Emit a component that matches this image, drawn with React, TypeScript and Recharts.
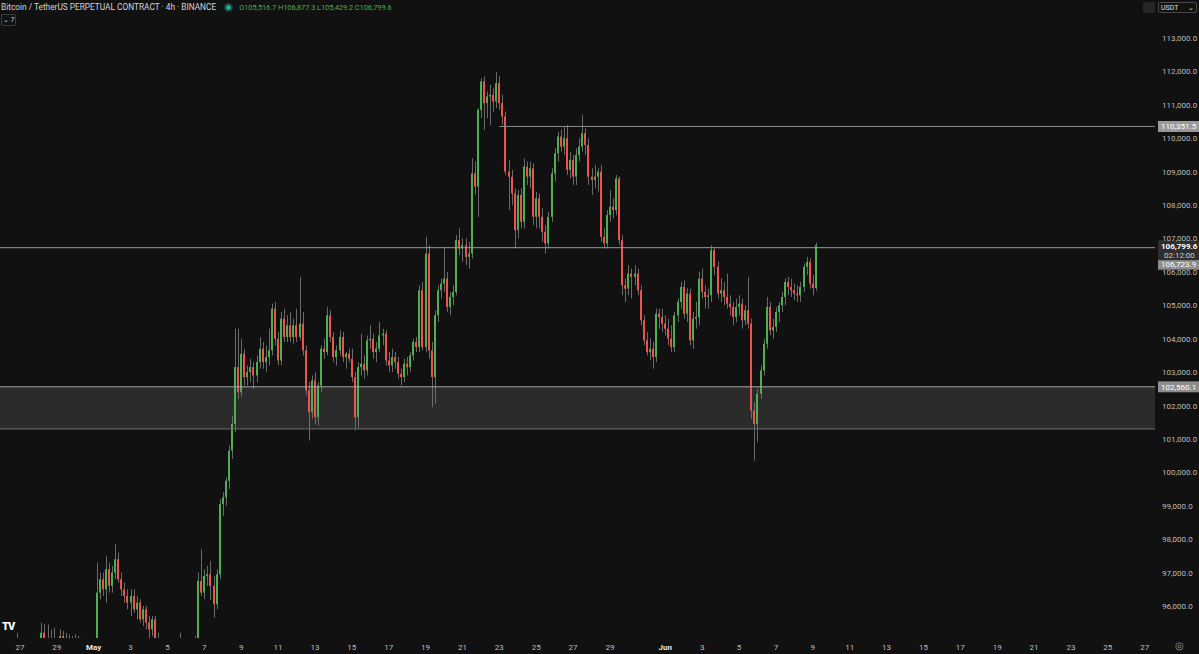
import React from 'react'
import { ComposedChart, Bar, XAxis, YAxis, ReferenceLine, ReferenceArea } from 'recharts'

// 4h candles, Apr 26 00:00 -> Jun 9 04:00 (index 0 = Apr 26 00:00)
const openPx = [
  94650, 94500, 94700, 94600, 94550, 94800, 94700, 94300, 93900, 94100,
  94300, 94500, 94600, 94200, 95200, 94600, 95000, 94700, 94900, 94500,
  95100, 94900, 95050, 94700, 94800, 94400, 94900, 94500, 93800, 94500,
  94300, 94500, 96400, 96800, 96500, 97100, 96600, 97000, 97400, 96800,
  96500, 96300, 96100, 96300, 95900, 96100, 95600, 95900, 95500, 95300,
  95600, 95000, 94500, 94300, 94600, 94400, 94000, 94300, 94600, 94700,
  94500, 94200, 94000, 94500, 94800, 96750, 96400, 96900, 96950, 96600,
  96050, 96950, 99050, 99250, 99750, 100650, 101450, 103150, 102400, 103550,
  102850, 103000, 103150, 102900, 103300, 103700, 103300, 103450, 103650, 104900,
  104000, 103350, 104600, 104050, 104400, 104050, 104400, 104050, 104450, 103650,
  102450, 101800, 102750, 101650, 102600, 103700, 103600, 104700, 104050, 103450,
  103650, 104050, 103450, 103550, 103400, 102850, 101650, 103150, 103250, 103050,
  103950, 104000, 103600, 103700, 104100, 104150, 103350, 103200, 103450, 103300,
  102950, 102850, 103250, 103150, 103500, 103900, 103750, 105450, 103750, 106550,
  103650, 102850, 104700, 105450, 105650, 105800, 104950, 105250, 105400, 106950,
  106700, 106800, 106450, 106550, 108950, 108550, 110850, 111700, 111050, 111250,
  111300, 111100, 111650, 111050, 110650, 109000, 108850, 108350, 107250, 108300,
  107500, 109150, 108850, 109100, 107650, 108200, 107650, 107200, 106850, 107650,
  108950, 109550, 110050, 109750, 110000, 109050, 109350, 108850, 109500, 109750,
  110150, 109800, 108850, 108750, 108850, 109000, 107050, 106850, 107700, 107950,
  107850, 108800, 106950, 105600, 105500, 105950, 105850, 105950, 105450, 104550,
  103950, 103600, 103700, 103450, 104750, 104650, 104450, 104300, 104000, 103750,
  104700, 105100, 105550, 104750, 105350, 103950, 104600, 104650, 105800, 105400,
  105250, 105300, 106650, 106150, 105350, 105450, 105250, 105050, 104950, 104650,
  104950, 105050, 104550, 104850, 104450, 101850, 101450, 102350, 103050, 103850,
  104950, 104250, 104350, 104800, 105000, 105250, 105700, 105550, 105450, 105350,
  105300, 105550, 106150, 106300, 105650, 105516.7,
]
const highPx = [
  94900, 94800, 94950, 94850, 94900, 95200, 94950, 94600, 94300, 94500,
  94700, 94900, 94950, 95500, 95450, 95450, 95300, 95350, 95000, 95300,
  95250, 95200, 95150, 95100, 95150, 95100, 95050, 94900, 94700, 94950,
  94700, 97300, 97000, 97000, 97500, 97300, 97200, 97850, 97600, 97000,
  96700, 96500, 96500, 96500, 96300, 96200, 96000, 96000, 95700, 95700,
  95700, 95200, 94900, 94800, 94900, 94700, 94500, 94800, 95200, 94900,
  94800, 94600, 94700, 95100, 97000, 97700, 97100, 97200, 97350, 96900,
  97100, 99200, 99400, 99850, 100800, 101700, 104300, 104300, 104000, 103700,
  103200, 103400, 103300, 103500, 104050, 103900, 103800, 104300, 105050, 105100,
  104200, 104800, 104900, 104700, 104800, 104600, 104900, 105850, 104800, 103800,
  102700, 102900, 103000, 102700, 103800, 104000, 104950, 104850, 104200, 103800,
  104250, 104200, 103600, 103700, 103700, 103000, 103300, 104150, 103500, 104100,
  104400, 104150, 103900, 104500, 104300, 104250, 103600, 103700, 103600, 103450,
  103100, 103400, 103450, 103600, 104000, 104050, 105600, 105700, 107050, 106800,
  103900, 104850, 105600, 105800, 106750, 106000, 105400, 105600, 107100, 107300,
  107000, 107000, 106900, 109400, 109300, 110900, 111800, 111850, 111400, 111600,
  111500, 111980, 111850, 111300, 110800, 109350, 109050, 108500, 108450, 108500,
  109400, 109300, 109300, 109250, 108400, 108350, 107900, 107400, 107800, 109100,
  109700, 110200, 110250, 110350, 110400, 109600, 109500, 109700, 110000, 110700,
  110300, 110000, 109100, 109200, 109100, 109200, 107300, 107850, 108450, 108200,
  108900, 108850, 107100, 105800, 106200, 106100, 106200, 106100, 105600, 104700,
  104200, 104000, 103900, 104900, 104900, 104900, 104700, 104600, 104400, 104800,
  105200, 105700, 105750, 105500, 105500, 104800, 105100, 106000, 106100, 105600,
  105500, 106800, 106750, 106300, 105800, 105700, 105950, 105300, 105100, 105200,
  105300, 105200, 105000, 105850, 104600, 102100, 102500, 103200, 104000, 105250,
  105100, 104600, 104950, 105100, 105400, 105800, 105850, 105800, 105650, 105600,
  105700, 106250, 106450, 106400, 105900, 106877.3,
]
const lowPx = [
  94300, 94200, 94400, 94350, 94250, 94500, 94100, 93700, 93600, 93800,
  94000, 94200, 94000, 93900, 94400, 94300, 94500, 94200, 94300, 94200,
  94600, 94500, 94600, 94300, 94200, 93800, 94300, 92900, 93500, 94000,
  94000, 94400, 96200, 96300, 96100, 96400, 96400, 96800, 96700, 96300,
  96100, 95900, 95700, 95800, 95600, 95500, 95400, 95300, 95000, 95100,
  94800, 94200, 94000, 93800, 94200, 93600, 93500, 94000, 94300, 94300,
  93900, 93500, 93800, 94300, 94600, 96300, 96200, 96600, 96180, 95650,
  95900, 96800, 98700, 99000, 99500, 100400, 101200, 102200, 102250, 102600,
  102600, 102700, 102500, 102700, 103100, 103100, 103000, 103200, 103500, 103800,
  103200, 103200, 103900, 103900, 103900, 103850, 103900, 103950, 103500, 102300,
  100950, 101600, 101450, 101400, 102400, 103400, 103500, 103900, 103300, 103200,
  103500, 103300, 103100, 103300, 102700, 101250, 101300, 102900, 102800, 102900,
  103700, 103400, 103300, 103600, 103800, 103200, 103000, 103000, 103100, 102800,
  102600, 102700, 102900, 103000, 103350, 103600, 103600, 103650, 103600, 103400,
  101950, 102050, 104500, 105200, 105400, 104800, 104700, 105000, 105300, 106500,
  106300, 106200, 106100, 106400, 108300, 107650, 110600, 110250, 110600, 110400,
  110800, 110900, 110850, 110400, 108900, 107850, 108000, 106700, 107000, 107300,
  107300, 108600, 108500, 107400, 107300, 107300, 106900, 106550, 106700, 107500,
  108700, 109300, 109600, 109500, 108900, 108800, 108600, 108600, 109300, 109600,
  109500, 108600, 108300, 108500, 108400, 106900, 106700, 106700, 107500, 107600,
  107700, 106800, 105300, 105100, 105300, 105200, 105600, 105300, 104400, 103800,
  103500, 103350, 103100, 103300, 104300, 104200, 104100, 103800, 103600, 103600,
  104500, 104900, 104600, 104500, 103800, 103700, 104300, 104400, 105200, 104900,
  104900, 105100, 105900, 105200, 105100, 105000, 104900, 104700, 104400, 104500,
  104700, 104300, 104400, 104300, 101600, 100350, 100900, 102200, 102900, 103700,
  104100, 104000, 104200, 104500, 104800, 105000, 105300, 105250, 105150, 105100,
  105100, 105400, 105900, 105500, 105300, 105429.2,
]
const closePx = [
  94500, 94700, 94600, 94550, 94800, 94700, 94300, 93900, 94100, 94300,
  94500, 94600, 94200, 95200, 94600, 95000, 94700, 94900, 94500, 95100,
  94900, 95050, 94700, 94800, 94400, 94900, 94500, 93800, 94500, 94300,
  94500, 96400, 96800, 96500, 97100, 96600, 97000, 97400, 96800, 96500,
  96300, 96100, 96300, 95900, 96100, 95600, 95900, 95500, 95300, 95600,
  95000, 94500, 94300, 94600, 94400, 94000, 94300, 94600, 94700, 94500,
  94200, 94000, 94500, 94800, 96750, 96400, 96900, 96950, 96600, 96050,
  96950, 99050, 99250, 99750, 100650, 101450, 103150, 102400, 103550, 102850,
  103000, 103150, 102900, 103300, 103700, 103300, 103450, 103650, 104900, 104000,
  103350, 104600, 104050, 104400, 104050, 104400, 104050, 104450, 103650, 102450,
  101800, 102750, 101650, 102600, 103700, 103600, 104700, 104050, 103450, 103650,
  104050, 103450, 103550, 103400, 102850, 101650, 103150, 103250, 103050, 103950,
  104000, 103600, 103700, 104100, 104150, 103350, 103200, 103450, 103300, 102950,
  102850, 103250, 103150, 103500, 103900, 103750, 105450, 103750, 106550, 103650,
  102850, 104700, 105450, 105650, 105800, 104950, 105250, 105400, 106950, 106700,
  106800, 106450, 106550, 108950, 108550, 110850, 111700, 111050, 111250, 111300,
  111100, 111650, 111050, 110650, 109000, 108850, 108350, 107250, 108300, 107500,
  109150, 108850, 109100, 107650, 108200, 107650, 107200, 106850, 107650, 108950,
  109550, 110050, 109750, 110000, 109050, 109350, 108850, 109500, 109750, 110150,
  109800, 108850, 108750, 108850, 109000, 107050, 106850, 107700, 107950, 107850,
  108800, 106950, 105600, 105500, 105950, 105850, 105950, 105450, 104550, 103950,
  103600, 103700, 103450, 104750, 104650, 104450, 104300, 104000, 103750, 104700,
  105100, 105550, 104750, 105350, 103950, 104600, 104650, 105800, 105400, 105250,
  105300, 106650, 106150, 105350, 105450, 105250, 105050, 104950, 104650, 104950,
  105050, 104550, 104850, 104450, 101850, 101450, 102350, 103050, 103850, 104950,
  104250, 104350, 104800, 105000, 105250, 105700, 105550, 105450, 105350, 105300,
  105550, 106150, 106300, 105650, 105520, 106799.6,
]

// day labels on the time scale (candle index of the 00:00 bar)
const dayTicks = [6, 18, 30, 42, 54, 66, 78, 90, 102, 114, 126, 138, 150, 162, 174, 186, 198,
  216, 228, 240, 252, 264, 276, 288, 300, 312, 324, 336, 348, 360, 372]
const dayLabels = ['27', '29', 'May', '3', '5', '7', '9', '11', '13', '15', '17', '19', '21', '23', '25', '27', '29',
  'Jun', '3', '5', '7', '9', '11', '13', '15', '17', '19', '21', '23', '25', '27']

const priceTicks = [96000, 97000, 98000, 99000, 100000, 101000, 102000, 103000, 104000,
  105000, 106000, 107000, 108000, 109000, 110000, 111000, 112000, 113000]

const resistance = 110351.5
const trendStart = 162
const lastLine = 106723.9
const zoneTop = 102560.1
const zoneBottom = 101300
const countdown = '02:12:00'

const BG = '#111111'
const UP = '#4caf50'
const DOWN = '#ef5350'
const WICK = '#6a6a6a'
const TXT = '#bdbdbd'
const FONT = "Roboto, 'Liberation Sans', sans-serif"

const rows = closePx.map((c, i) => ({
  t: i,
  o: openPx[i],
  h: highPx[i],
  l: lowPx[i],
  c,
  range: [lowPx[i], highPx[i]],
}))

const fmt = (v: number) => v.toLocaleString('en-US', { minimumFractionDigits: 1, maximumFractionDigits: 1 })

function Candle(props: any) {
  const { x, y, width, height, payload } = props
  if (x == null || y == null || !payload) return null
  const { o, h, l, c } = payload
  const cx = Math.floor(x + width / 2)
  const k = h > l ? height / (h - l) : 0
  const py = (v: number) => y + (h - v) * k
  const top = py(Math.max(o, c))
  const bot = py(Math.min(o, c))
  return (
    <g>
      <rect x={cx} y={y} width={1} height={Math.max(height, 1)} fill={WICK} />
      <rect x={cx - 1} y={top} width={2} height={Math.max(bot - top, 1)} fill={c >= o ? UP : DOWN} />
    </g>
  )
}

function PriceTag(props: any) {
  const { viewBox, text, bg, fg, shift = 0, sub, bold } = props
  if (!viewBox) return null
  const right = viewBox.x + viewBox.width
  const y = viewBox.y + shift
  return (
    <g fontFamily={FONT} fontSize={8}>
      <rect x={right + 3} y={y - 5.5} width={41} height={sub ? 20 : 11} fill={bg} />
      <text x={right + 6} y={y + 3} fill={fg} fontWeight={bold ? 700 : 400}>{text}</text>
      {sub && <text x={right + 9} y={y + 12} fill="#cfcfcf">{sub}</text>}
    </g>
  )
}

function DateTick(props: any) {
  const { x, y, payload } = props
  const lab = dayLabels[dayTicks.indexOf(payload.value)]
  const month = isNaN(Number(lab))
  return (
    <text x={x} y={y - 2} dy="0.71em" textAnchor="middle" fontFamily={FONT} fontSize={8}
      fill={month ? '#e6e6e6' : TXT} fontWeight={month ? 700 : 400}>{lab}</text>
  )
}

function PriceTick(props: any) {
  const { x, y, payload } = props
  return (
    <text x={x} y={y} dy={3} textAnchor="start" fontFamily={FONT} fontSize={8} fill={TXT}>{fmt(payload.value)}</text>
  )
}

export default function App() {
  const n = rows.length - 1
  return (
    <div style={{ position: 'absolute', left: 0, top: 0, width: 1199, height: 654, background: BG, overflow: 'hidden', fontFamily: FONT }}>
      <ComposedChart width={1199} height={654} data={rows} margin={{ top: 0, right: 0, bottom: 0, left: 0 }}>
        <ReferenceArea y1={zoneBottom} y2={zoneTop} fill="#2b2b2b" fillOpacity={1} stroke="none" ifOverflow="visible" />
        <ReferenceLine y={zoneBottom} stroke="#6e6e6e" strokeWidth={1} />
        <ReferenceLine y={zoneTop} stroke="#a8a8a8" strokeWidth={1}
          label={(p: any) => <PriceTag {...p} text={fmt(zoneTop)} bg="#8e8e8e" fg="#ffffff" />} />
        <ReferenceLine y={lastLine} stroke="#9a9a9a" strokeWidth={1}
          label={(p: any) => <PriceTag {...p} text={fmt(lastLine)} bg="#8e8e8e" fg="#ffffff" shift={16.5} />} />
        <ReferenceLine segment={[{ x: trendStart, y: resistance }, { x: 375.35, y: resistance }]} stroke="#8a8a8a" strokeWidth={1}
          label={(p: any) => <PriceTag {...p} text={fmt(resistance)} bg="#9a9a9a" fg="#ffffff" />} />
        <ReferenceLine y={closePx[n]} stroke="none"
          label={(p: any) => <PriceTag {...p} text={fmt(closePx[n])} bg="#2e2e2e" fg="#ffffff" bold sub={countdown} shift={0.5} />} />
        <XAxis dataKey="t" type="number" domain={[-0.49, 375.35]} allowDataOverflow ticks={dayTicks}
          height={16} axisLine={false} tickLine={false} tick={<DateTick />} interval={0} />
        <YAxis orientation="right" type="number" domain={[95042, 114137]} allowDataOverflow ticks={priceTicks}
          width={44} axisLine={false} tickLine={false} tickSize={6} tickMargin={1} tick={<PriceTick />} interval={0} />
        <Bar dataKey="range" barSize={2} shape={<Candle />} isAnimationActive={false} />
      </ComposedChart>

      <div style={{ position: 'absolute', left: 1, top: 2, fontSize: 8.3, color: '#d1d4dc', whiteSpace: 'nowrap', display: 'flex', alignItems: 'center' }}>
        <span>Bitcoin / TetherUS PERPETUAL CONTRACT · 4h · BINANCE</span>
        <span style={{ width: 5, height: 5, borderRadius: '50%', background: '#22ab94', margin: '0 8px 0 10px', boxShadow: '0 0 0 2px rgba(34,171,148,0.3)' }} />
        <span style={{ color: UP, fontSize: 7.4, letterSpacing: -0.05 }}>O{fmt(openPx[n])} H{fmt(highPx[n])} L{fmt(lowPx[n])} C{fmt(closePx[n])}</span>
      </div>
      <div style={{ position: 'absolute', left: 1, top: 14, width: 13, height: 10, border: '1px solid #3a3a3a', borderRadius: 2, fontSize: 7, color: '#cccccc', lineHeight: '10px', textAlign: 'center' }}>⌄ 7</div>
      <div style={{ position: 'absolute', left: 1143, top: 2, width: 12, height: 11, background: '#262626', borderRadius: 1 }} />
      <div style={{ position: 'absolute', left: 1158, top: 2, width: 39, height: 11, border: '1px solid #4a4a4a', borderRadius: 2, fontSize: 7, color: '#e0e0e0', lineHeight: '11px', paddingLeft: 2, boxSizing: 'border-box' }}>
        USDT<span style={{ position: 'absolute', right: 2 }}>⌄</span>
      </div>
      <div style={{ position: 'absolute', left: 2, top: 620, fontSize: 11, fontWeight: 900, color: '#ffffff', letterSpacing: -1 }}>TV</div>
      <div style={{ position: 'absolute', left: 1175, top: 640, fontSize: 10, color: '#9a9a9a' }}>◎</div>
    </div>
  )
}
